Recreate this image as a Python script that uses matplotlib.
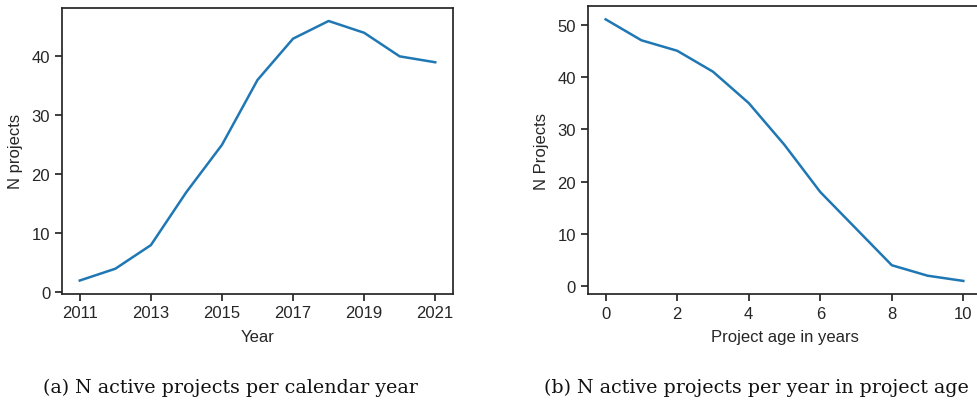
import matplotlib
matplotlib.use("Agg")
import matplotlib.pyplot as plt

years = [2011, 2012, 2013, 2014, 2015, 2016, 2017, 2018, 2019, 2020, 2021]
active_per_year = [2, 4, 8, 17, 25, 36, 43, 46, 44, 40, 39]
ages = [0, 1, 2, 3, 4, 5, 6, 7, 8, 9, 10]
active_per_age = [51, 47, 45, 41, 35, 27, 18, 11, 4, 2, 1]
year_ticks = [2011, 2013, 2015, 2017, 2019, 2021]
age_ticks = [0, 2, 4, 6, 8, 10]

plt.rcParams['font.family'] = ['Liberation Sans', 'DejaVu Sans']
dark = '#262626'
W, H = 978, 402
fig = plt.figure(figsize=(W / 100, H / 100), dpi=100)

def style(ax):
    for s in ax.spines.values():
        s.set_color(dark)
        s.set_linewidth(1.25)
    ax.tick_params(colors=dark, labelcolor=dark, labelsize=12, width=1.25, length=5)

ax1 = fig.add_axes([62 / W, 1 - 294.5 / H, (453 - 62) / W, (294.5 - 9) / H])
ax1.plot(years, active_per_year, color='#1f77b4', lw=1.8)
ax1.set_xticks(year_ticks)
ax1.set_xlabel('Year', fontsize=12, color=dark, labelpad=6)
ax1.set_ylabel('N projects', fontsize=12, color=dark, labelpad=6)
style(ax1)

ax2 = fig.add_axes([587.8 / W, 1 - 295 / H, (981.2 - 587.8) / W, (295 - 7.3) / H])
ax2.plot(ages, active_per_age, color='#1f77b4', lw=1.8)
ax2.set_xticks(age_ticks)
ax2.set_yticks([0, 10, 20, 30, 40, 50])
ax2.set_xlabel('Project age in years', fontsize=12, color=dark, labelpad=6)
ax2.set_ylabel('N Projects', fontsize=12, color=dark, labelpad=6)
style(ax2)

fig.text(230 / W, 1 - 388 / H, '(a) N active projects per calendar year',
         ha='center', va='center', fontsize=13.7, family='DejaVu Serif', color='#111111')
fig.text(756 / W, 1 - 388 / H, '(b) N active projects per year in project age',
         ha='center', va='center', fontsize=13.7, family='DejaVu Serif', color='#111111')

fig.savefig('out.png', dpi=100)
